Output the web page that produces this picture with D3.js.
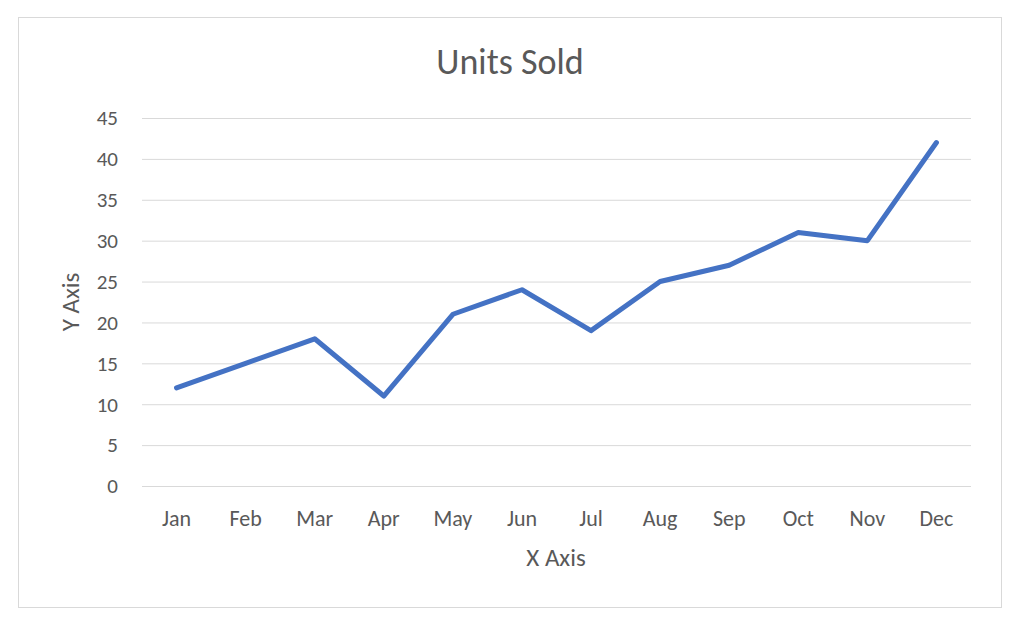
<!DOCTYPE html>
<html><head><meta charset="utf-8">
<script src="https://cdn.jsdelivr.net/npm/d3@7"></script>
<style>body{margin:0;background:#fff}</style>
</head><body>
<script>
(function() {
  "use strict";

  var months = ["Jan","Feb","Mar","Apr","May","Jun","Jul","Aug","Sep","Oct","Nov","Dec"];
  var units = [12, 15, 18, 11, 21, 24, 19, 25, 27, 31, 30, 42];
  var yTicks = [0, 5, 10, 15, 20, 25, 30, 35, 40, 45];

  var font = "Calibri, Carlito, 'Open Sans', sans-serif";
  var grey = "#595959";

  var svg = d3.select("body").append("svg")
      .attr("width", 1024).attr("height", 628);

  svg.append("rect").attr("x", 18.5).attr("y", 17.5)
      .attr("width", 983).attr("height", 590)
      .attr("fill", "#fff").attr("stroke", "#d9d9d9");

  var x = d3.scaleBand().domain(months).range([142, 971]);
  var y = d3.scaleLinear().domain([0, 45]).range([486, 118]);

  // gridlines
  svg.selectAll("line.grid").data(yTicks).enter().append("line")
      .attr("x1", 142).attr("x2", 971)
      .attr("y1", function(d) { return y(d) + 0.5; })
      .attr("y2", function(d) { return y(d) + 0.5; })
      .attr("stroke", "#d9d9d9").attr("stroke-width", 1);

  svg.selectAll("text.yt").data(yTicks).enter().append("text")
      .attr("x", 118).attr("y", function(d) { return y(d); })
      .attr("dy", "0.35em").attr("text-anchor", "end")
      .style("font", "21px " + font).attr("fill", grey)
      .text(function(d) { return d; });

  svg.selectAll("text.xt").data(months).enter().append("text")
      .attr("x", function(d) { return x(d) + x.bandwidth() / 2; })
      .attr("y", 518).attr("dy", "0.35em").attr("text-anchor", "middle")
      .style("font", "22px " + font).attr("fill", grey)
      .text(function(d) { return d; });

  var line = d3.line()
      .x(function(d, i) { return x(months[i]) + x.bandwidth() / 2; })
      .y(function(d) { return y(d); });

  svg.append("path").datum(units)
      .attr("d", line).attr("fill", "none")
      .attr("stroke", "#4472c4").attr("stroke-width", 5)
      .attr("stroke-linejoin", "round").attr("stroke-linecap", "round");

  svg.append("text").attr("x", 510).attr("y", 61).attr("dy", "0.35em")
      .attr("text-anchor", "middle").style("font", "36px " + font)
      .attr("fill", grey).text("Units Sold");

  svg.append("text").attr("x", 556).attr("y", 557).attr("dy", "0.35em")
      .attr("text-anchor", "middle").style("font", "25px " + font)
      .attr("fill", grey).text("X Axis");

  svg.append("text").attr("transform", "translate(70,302) rotate(-90)")
      .attr("dy", "0.35em").attr("text-anchor", "middle")
      .style("font", "25px " + font).attr("fill", grey).text("Y Axis");
})();
</script>
</body></html>
